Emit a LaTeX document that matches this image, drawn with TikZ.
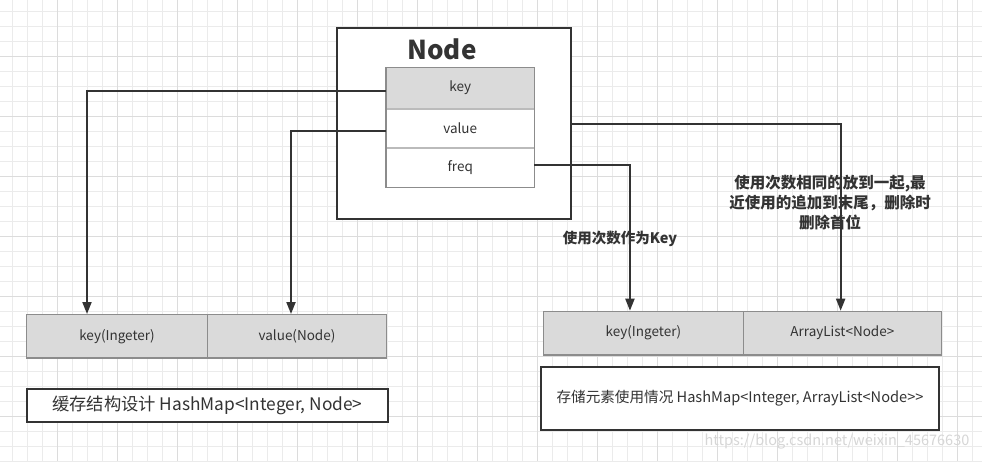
\documentclass[tikz,border=0pt]{standalone}
\usepackage{fontspec}
\setmainfont{Noto Sans CJK SC}
\usetikzlibrary{arrows.meta}
\definecolor{ink}{HTML}{333333}
\definecolor{cellfill}{HTML}{DADADA}
\definecolor{cellline}{HTML}{8C8C8C}
\definecolor{divline}{HTML}{BBBBBB}
\definecolor{gridminor}{HTML}{EBEBEB}
\definecolor{gridmajor}{HTML}{DCDCDC}
\definecolor{wmark}{HTML}{D6D6D6}
\begin{document}
\begin{tikzpicture}[x=1pt,y=-1pt,
  txt/.style={font=\fontsize{13.5}{16}\selectfont, text=ink},
  cell/.style={draw=cellline, line width=1.3pt, fill=cellfill, anchor=north west, inner sep=0pt, txt},
  rowcell/.style={anchor=north west, inner sep=0pt, minimum width=148pt, txt},
  boxdark/.style={draw=ink, line width=2pt, fill=white, anchor=north west, inner sep=0pt},
  conn/.style={draw=ink, line width=2pt, -{Triangle[length=12pt,width=9pt]}},
  lbl/.style={font=\bfseries\fontsize{14.5}{20}\selectfont, text=ink, align=center, inner sep=0pt}
]
\useasboundingbox (0,0) rectangle (982,461);
\fill[white] (0,0) rectangle (982,461);
% grid
\foreach \i in {0,...,65} \draw[gridminor, line width=1pt] (12.7+15*\i,0) -- (12.7+15*\i,461);
\foreach \i in {0,...,30} \draw[gridminor, line width=1pt] (0,11.7+15*\i) -- (982,11.7+15*\i);
\foreach \i in {-1,...,16} \draw[gridmajor, line width=1pt] (57.7+60*\i,0) -- (57.7+60*\i,461);
\foreach \i in {-1,...,7} \draw[gridmajor, line width=1pt] (0,56.7+60*\i) -- (982,56.7+60*\i);

% Node outer box
\node[boxdark, minimum width=234pt, minimum height=191pt] (outer) at (336,27) {};
\node[font=\bfseries\fontsize{26}{30}\selectfont, text=ink, inner sep=0pt] (title) at (442,49) {Node};
% inner table
\node[rowcell, fill=cellfill, minimum height=41pt] (key) at (386,67.5) {key};
\node[rowcell, fill=white, minimum height=39pt] (value) at (386,108.5) {value};
\node[rowcell, fill=white, minimum height=39.5pt] (freq) at (386,147.5) {freq};
\draw[divline, line width=1.3pt] (key.south west) -- (key.south east);
\draw[divline, line width=1.3pt] (value.south west) -- (value.south east);
\draw[cellline, line width=1.3pt] (key.north west) rectangle (freq.south east);

% left table
\node[cell, minimum width=180.7pt, minimum height=43.3pt] (lkey) at (26,314) {key(Ingeter)};
\node[cell, minimum width=179.3pt, minimum height=43.3pt] (lval) at (206.7,314) {value(Node)};
\node[boxdark, minimum width=360.5pt, minimum height=33pt, font=\fontsize{17.3}{19}\selectfont, text=ink] (lcap) at (26,388) {缓存结构设计 HashMap<Integer, Node>};

% right table
\node[cell, minimum width=200pt, minimum height=43.6pt] (rkey) at (542.7,310.7) {key(Ingeter)};
\node[cell, minimum width=198pt, minimum height=43.6pt] (rlist) at (742.7,310.7) {ArrayList<Node>};
\node[boxdark, minimum width=398pt, minimum height=63.3pt, font=\fontsize{14.6}{17}\selectfont, text=ink] (rcap) at (540,366) {存储元素使用情况 HashMap<Integer, ArrayList<Node>{}>};

% connectors
\draw[conn] ([yshift=-3pt]key.west) -| ([xshift=-30pt]lkey.north);
\draw[conn] ([yshift=-2.5pt]value.west) -| ([xshift=-6pt]lval.north);
\draw[conn] ([yshift=2pt]freq.east) -| ([xshift=-13.4pt]rkey.north);
\draw[conn] (outer.east) -| ([xshift=-1.7pt]rlist.north);

% labels
\node[lbl] (lblkey) at (620,239) {使用次数作为Key};
\node[lbl, font=\bfseries\fontsize{15.5}{20}\selectfont] (lblsame) at (830,202.5) {使用次数相同的放到一起,最\\近使用的追加到末尾，删除时\\删除首位};

% watermark
\node[font=\fontsize{14.5}{17}\selectfont, text=wmark, inner sep=0pt] (wm) at (837,442) {https://blog.csdn.net/weixin\_45676630};
\end{tikzpicture}
\end{document}
